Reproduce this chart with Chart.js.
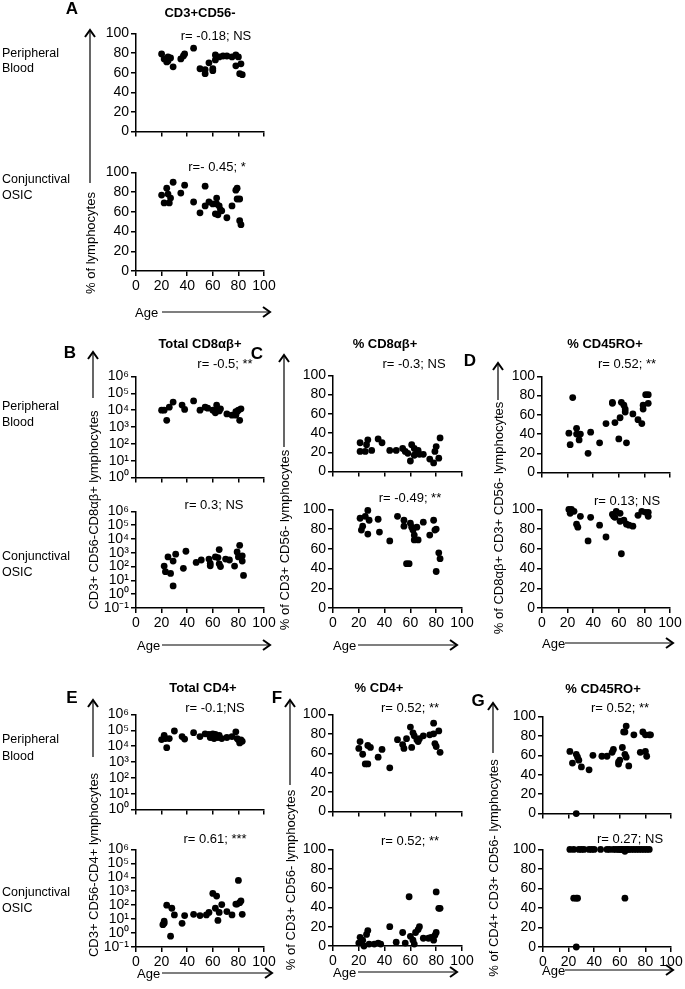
<!DOCTYPE html>
<html>
<head>
<meta charset="utf-8">
<script src="https://cdn.jsdelivr.net/npm/chart.js@4.4.1/dist/chart.umd.min.js"></script>
<style>
body { margin: 0; background: #fff; }
#fig { position: relative; width: 685px; height: 989px; overflow: hidden; }
#fig canvas { position: absolute; }
#ann { position: absolute; left: 0; top: 0; z-index: 2; }
</style>
</head>
<body>
<div id="fig">
<svg id="ann" width="685" height="989" font-family="Liberation Sans, Arial, sans-serif" fill="#000">
  <g font-weight="bold" font-size="17" text-anchor="middle" dominant-baseline="central">
    <text x="72" y="8">A</text>
    <text x="70" y="352">B</text>
    <text x="257" y="353">C</text>
    <text x="470" y="360">D</text>
    <text x="72" y="697">E</text>
    <text x="277" y="697">F</text>
    <text x="478" y="700">G</text>
  </g>
  <g font-weight="bold" font-size="13" text-anchor="middle" dominant-baseline="central">
    <text x="200" y="12">CD3+CD56-</text>
    <text x="200" y="343">Total CD8αβ+</text>
    <text x="385" y="343">% CD8αβ+</text>
    <text x="605" y="343">% CD45RO+</text>
    <text x="203" y="687">Total CD4+</text>
    <text x="379" y="687">% CD4+</text>
    <text x="603" y="688">% CD45RO+</text>
  </g>
  <g font-size="13" text-anchor="middle" dominant-baseline="central">
    <text x="216" y="35">r= -0.18; NS</text>
    <text x="217" y="166">r=- 0.45; *</text>
    <text x="225" y="363">r= -0.5; **</text>
    <text x="214" y="504">r= 0.3; NS</text>
    <text x="414" y="363">r= -0.3; NS</text>
    <text x="410" y="497">r= -0.49; **</text>
    <text x="627" y="363">r= 0.52; **</text>
    <text x="627" y="500">r= 0.13; NS</text>
    <text x="215" y="707">r= -0.1;NS</text>
    <text x="215" y="838">r= 0.61; ***</text>
    <text x="410" y="707">r= 0.52; **</text>
    <text x="410" y="840">r= 0.52; **</text>
    <text x="620" y="707">r= 0.52; **</text>
    <text x="630" y="838">r= 0.27; NS</text>
  </g>
  <g font-size="12.5" dominant-baseline="central">
    <text x="2" y="53">Peripheral</text><text x="2" y="68">Blood</text>
    <text x="2" y="179">Conjunctival</text><text x="2" y="195">OSIC</text>
    <text x="2" y="406">Peripheral</text><text x="2" y="422">Blood</text>
    <text x="2" y="556">Conjunctival</text><text x="2" y="572">OSIC</text>
    <text x="2" y="739">Peripheral</text><text x="2" y="756">Blood</text>
    <text x="2" y="892">Conjunctival</text><text x="2" y="908">OSIC</text>
  </g>
  <g font-size="13" text-anchor="middle" dominant-baseline="central">
    <text transform="translate(90,243) rotate(-90)">% of lymphocytes</text>
    <text transform="translate(93,510) rotate(-90)">CD3+ CD56-CD8αβ+ lymphocytes</text>
    <text transform="translate(284,540) rotate(-90)">% of CD3+ CD56- lymphocytes</text>
    <text transform="translate(498,518) rotate(-90)">% of CD8αβ+ CD3+ CD56- lymphocytes</text>
    <text transform="translate(93,865) rotate(-90)">CD3+ CD56-CD4+ lymphocytes</text>
    <text transform="translate(290,880) rotate(-90)">% of CD3+ CD56- lymphocytes</text>
    <text transform="translate(493,868) rotate(-90)">% of CD4+ CD3+ CD56- lymphocytes</text>
  </g>
  <g font-size="13" dominant-baseline="central">
    <text x="135" y="312">Age</text>
    <text x="137" y="645">Age</text>
    <text x="333" y="645">Age</text>
    <text x="542" y="643">Age</text>
    <text x="137" y="973">Age</text>
    <text x="333" y="972">Age</text>
    <text x="542" y="970">Age</text>
  </g>
  <g id="arrows" stroke="#000" fill="none" stroke-width="1.2"></g>
</svg>
</div>
<script>
// ---- data (age in years, value per panel) ----
const aPbAge = [20, 22, 24, 25, 27, 25, 29, 35, 37, 38, 45, 50, 54, 54, 57, 60, 60, 62, 62, 65, 68, 71, 75, 78, 80, 78, 81, 82, 83];
const aPbVal = [79, 74, 71, 76, 75, 72, 66, 74, 77, 79, 85, 64, 63, 59, 70, 64, 62, 78, 73, 76, 77, 77, 76, 78, 76, 67, 59, 69, 58];
const aOsAge = [20, 22, 24, 25, 27, 26, 29, 35, 38, 45, 50, 54, 54, 57, 60, 62, 63, 64, 63, 65, 66, 67, 71, 75, 78, 79, 79, 81, 81, 82];
const aOsVal = [77, 69, 84, 78, 74, 69, 90, 79, 87, 70, 59, 86, 66, 70, 68, 58, 68, 57, 74, 66, 62, 61, 54, 66, 82, 84, 73, 73, 51, 47];

const bPbAge = [20, 22, 24, 26, 29, 36, 38, 45, 50, 54, 56, 60, 62, 63, 63, 65, 66, 71, 75, 78, 79, 80, 81, 82, 78];
const bPbVal = [1e4, 1e4, 2500, 1.5e4, 3e4, 2e4, 1.1e4, 3.5e4, 1e4, 1.5e4, 1.3e4, 1e4, 7e3, 2e4, 1e4, 9e3, 1.2e4, 6e3, 5e3, 8e3, 8e3, 1e4, 2500, 1.2e4, 5e3];
const bOsAge = [22, 23, 25, 27, 29, 29, 31, 37, 39, 47, 51, 57, 58, 58, 62, 64, 65, 65, 66, 70, 73, 77, 79, 80, 81, 83, 83, 84];
const bOsVal = [110, 43, 500, 32, 4, 250, 800, 75, 1300, 200, 300, 350, 170, 115, 500, 450, 1700, 160, 100, 350, 300, 110, 1150, 500, 3500, 600, 250, 23];

const cPbAge = [21, 21, 25, 26, 27, 30, 35, 38, 44, 49, 54, 56, 58, 61, 60, 63, 63, 65, 66, 67, 70, 75, 78, 79, 80, 82, 83];
const cPbVal = [30, 21, 21, 28, 33, 22, 34, 30, 22, 22, 24, 21, 19, 28, 11, 17, 24, 20, 22, 18, 18, 13, 9, 21, 26, 14, 35];
const cOsAge = [21, 22, 23, 25, 27, 27, 28, 35, 36, 44, 50, 55, 55, 57, 59, 60, 61, 62, 63, 63, 65, 66, 70, 75, 78, 79, 80, 80, 82, 83];
const cOsVal = [91, 79, 83, 93, 99, 75, 89, 90, 77, 68, 93, 89, 83, 45, 45, 86, 82, 79, 74, 69, 82, 69, 87, 74, 89, 79, 80, 37, 56, 50];

const dPbAge = [21, 22, 24, 27, 27, 30, 29, 36, 38, 45, 50, 55, 55, 57, 60, 61, 62, 64, 65, 65, 66, 71, 75, 78, 79, 79, 81, 83, 83];
const dPbVal = [41, 29, 78, 46, 40, 40, 34, 20, 42, 31, 51, 73, 72, 52, 35, 57, 73, 70, 66, 63, 31, 61, 55, 51, 70, 66, 81, 81, 72];
const dOsAge = [21, 22, 23, 25, 27, 28, 30, 36, 38, 45, 50, 55, 56, 57, 58, 61, 61, 62, 64, 66, 68, 71, 75, 78, 81, 83, 83];
const dOsVal = [100, 96, 100, 98, 85, 82, 93, 68, 92, 84, 72, 95, 93, 92, 98, 88, 96, 55, 89, 85, 84, 83, 94, 98, 97, 97, 93];

const ePbAge = [20, 22, 23, 24, 26, 30, 36, 38, 45, 50, 54, 57, 58, 60, 61, 62, 64, 65, 67, 71, 75, 78, 79, 80, 81, 82, 83];
const ePbVal = [2.6e4, 4.8e4, 3e4, 8e3, 3e4, 9e4, 4e4, 2.8e4, 7e4, 4e4, 6e4, 5.5e4, 3.5e4, 6e4, 3e4, 5.5e4, 3.5e4, 4.8e4, 3e4, 3.5e4, 4e4, 8e4, 3e4, 2.5e4, 1.6e4, 2.5e4, 2e4];
const eOsAge = [21, 22, 22, 24, 27, 28, 30, 36, 38, 45, 50, 55, 57, 60, 62, 63, 64, 65, 67, 71, 75, 78, 79, 80, 81, 82, 83];
const eOsVal = [4, 7, 5, 100, 0.6, 60, 20, 5, 18, 22, 18, 20, 30, 700, 60, 450, 8, 30, 110, 35, 20, 120, 120, 6000, 150, 200, 22];

const fPbAge = [20, 21, 23, 25, 27, 27, 29, 35, 38, 44, 50, 54, 55, 57, 60, 61, 62, 63, 65, 66, 67, 70, 75, 78, 78, 79, 80, 82, 83];
const fPbVal = [65, 72, 59, 49, 49, 68, 66, 56, 64, 45, 74, 69, 65, 75, 87, 66, 81, 78, 74, 72, 75, 78, 79, 91, 80, 70, 67, 83, 61];
const fOsAge = [20, 21, 23, 24, 26, 27, 28, 32, 35, 37, 44, 49, 54, 56, 59, 60, 62, 63, 64, 66, 67, 70, 74, 76, 78, 79, 80, 80, 82, 83];
const fOsVal = [3, 9, 6, 0, 12, 16, 2, 2, 3, 2, 20, 4, 14, 3, 51, 10, 6, 2, 14, 17, 20, 8, 8, 9, 6, 11, 56, 14, 39, 39];

const gPbAge = [21, 23, 26, 26, 27, 28, 30, 36, 39, 46, 50, 54, 55, 59, 59, 60, 62, 63, 64, 65, 64, 65, 67, 71, 76, 78, 80, 80, 81, 83, 84];
const gPbVal = [64, 52, 0, 61, 58, 55, 48, 45, 60, 59, 59, 63, 66, 51, 53, 55, 68, 84, 84, 90, 61, 58, 49, 81, 63, 84, 81, 64, 59, 81, 81];
const gOsAge = [21, 24, 24, 26, 27, 26, 28, 30, 32, 36, 38, 40, 45, 50, 52, 55, 57, 59, 60, 61, 62, 63, 64, 64, 65, 65, 66, 67, 69, 71, 73, 75, 77, 79, 81, 83];
const gOsVal = [100, 100, 50, 50, 50, 0, 100, 100, 100, 100, 100, 100, 100, 100, 100, 100, 100, 100, 100, 100, 100, 100, 98, 50, 100, 100, 100, 100, 100, 100, 100, 100, 100, 100, 100, 100];

const ageTicks = [0, 20, 40, 60, 80, 100];
const pctTicks = [0, 20, 40, 60, 80, 100];
const logTicksPb = [0, 1, 2, 3, 4, 5, 6];      // exponents of 10
const logTicksOs = [-1, 0, 1, 2, 3, 4, 5, 6];

// ---- layout ----
const fig = document.getElementById('fig');
const YW = 44, PT = 10, PR = 16;
const FONT = "'Liberation Sans', Arial, sans-serif";
const SUP = {'-': '⁻', '0': '⁰', '1': '¹', '2': '²', '3': '³', '4': '⁴', '5': '⁵', '6': '⁶'};

Chart.defaults.font.family = FONT;
Chart.defaults.color = '#000';

function plot(ax, ay, w, h, ages, vals, logExp, showX) {
  const xh = showX ? 24 : 10;
  const cw = YW + w + PR, ch = PT + h + xh;
  const c = document.createElement('canvas');
  c.width = cw; c.height = ch;
  c.style.left = (ax - YW) + 'px';
  c.style.top = (ay - PT) + 'px';
  c.style.width = cw + 'px';
  c.style.height = ch + 'px';
  fig.appendChild(c);

  const grid = { drawOnChartArea: false, drawTicks: true, tickLength: 5, color: '#000', lineWidth: 1.5 };
  const border = { display: true, color: '#000', width: 1.5 };

  let yScale;
  if (logExp) {
    yScale = {
      type: 'logarithmic',
      min: Math.pow(10, logExp[0]),
      max: Math.pow(10, logExp[logExp.length - 1]),
      afterBuildTicks: s => { s.ticks = logExp.map(e => ({ value: Math.pow(10, e) })); },
      ticks: {
        font: { size: 14 }, padding: 2, autoSkip: false,
        callback: v => {
          const e = String(Math.round(Math.log10(v)));
          return '10' + e.split('').map(ch => SUP[ch]).join('');
        }
      }
    };
  } else {
    yScale = {
      type: 'linear', min: 0, max: 100,
      afterBuildTicks: s => { s.ticks = pctTicks.map(v => ({ value: v })); },
      ticks: { font: { size: 14 }, padding: 2, autoSkip: false }
    };
  }
  yScale.grid = grid;
  yScale.border = border;
  yScale.afterFit = s => { s.width = YW; };

  new Chart(c, {
    type: 'scatter',
    data: {
      datasets: [{
        data: ages.map((a, i) => ({ x: a, y: vals[i] })),
        backgroundColor: '#000',
        borderWidth: 0,
        pointRadius: 3.4,
        clip: false
      }]
    },
    options: {
      responsive: false,
      animation: false,
      events: [],
      devicePixelRatio: 1,
      layout: { padding: { top: PT, right: PR, left: 0, bottom: 0 } },
      plugins: { legend: { display: false }, tooltip: { enabled: false } },
      scales: {
        x: {
          type: 'linear', min: 0, max: 100,
          afterBuildTicks: s => { s.ticks = ageTicks.map(v => ({ value: v })); },
          ticks: { display: showX, font: { size: 14 }, padding: 2, maxRotation: 0, autoSkip: false },
          grid: grid,
          border: border,
          afterFit: s => { s.height = xh; }
        },
        y: yScale
      }
    }
  });
}

plot(136, 33, 128, 99, aPbAge, aPbVal, null, false);
plot(136, 172, 128, 99, aOsAge, aOsVal, null, true);
plot(136, 376, 128, 102, bPbAge, bPbVal, logTicksPb, false);
plot(136, 511, 128, 97, bOsAge, bOsVal, logTicksOs, true);
plot(333, 375, 129, 97, cPbAge, cPbVal, null, false);
plot(333, 509, 129, 99, cOsAge, cOsVal, null, true);
plot(542, 376, 128, 97, dPbAge, dPbVal, null, false);
plot(542, 509, 128, 99, dOsAge, dOsVal, null, true);
plot(136, 714, 128, 96, ePbAge, ePbVal, logTicksPb, false);
plot(136, 849, 128, 98, eOsAge, eOsVal, logTicksOs, true);
plot(333, 714, 129, 98, fPbAge, fPbVal, null, false);
plot(333, 849, 129, 97, fOsAge, fOsVal, null, true);
plot(543, 716, 128, 98, gPbAge, gPbVal, null, false);
plot(543, 849, 128, 98, gOsAge, gOsVal, null, true);

// ---- arrows ----
const arrows = document.getElementById('arrows');
const NS = 'http://www.w3.org/2000/svg';
function path(d, sw) {
  const p = document.createElementNS(NS, 'path');
  p.setAttribute('d', d);
  if (sw) p.setAttribute('stroke-width', sw);
  arrows.appendChild(p);
}
// vertical: x, tip, bottom
[[90, 30, 183], [93, 352, 398], [284, 355, 447], [498, 363, 400],
 [93, 700, 757], [290, 700, 785], [493, 703, 753]].forEach(([x, t, b]) => {
  path(`M${x} ${t + 1}V${b}`);
  path(`M${x - 5} ${t + 7}L${x} ${t}L${x + 5} ${t + 7}`, 2);
});
// horizontal age arrows: y, x1, x2
[[312, 162, 270], [645, 162, 270], [645, 358, 457], [643, 565, 673],
 [973, 162, 272], [972, 358, 457], [970, 565, 673]].forEach(([y, a, b]) => {
  path(`M${a} ${y}H${b - 1}`);
  path(`M${b - 7} ${y - 5}L${b} ${y}L${b - 7} ${y + 5}`, 2);
});
</script>
</body>
</html>
